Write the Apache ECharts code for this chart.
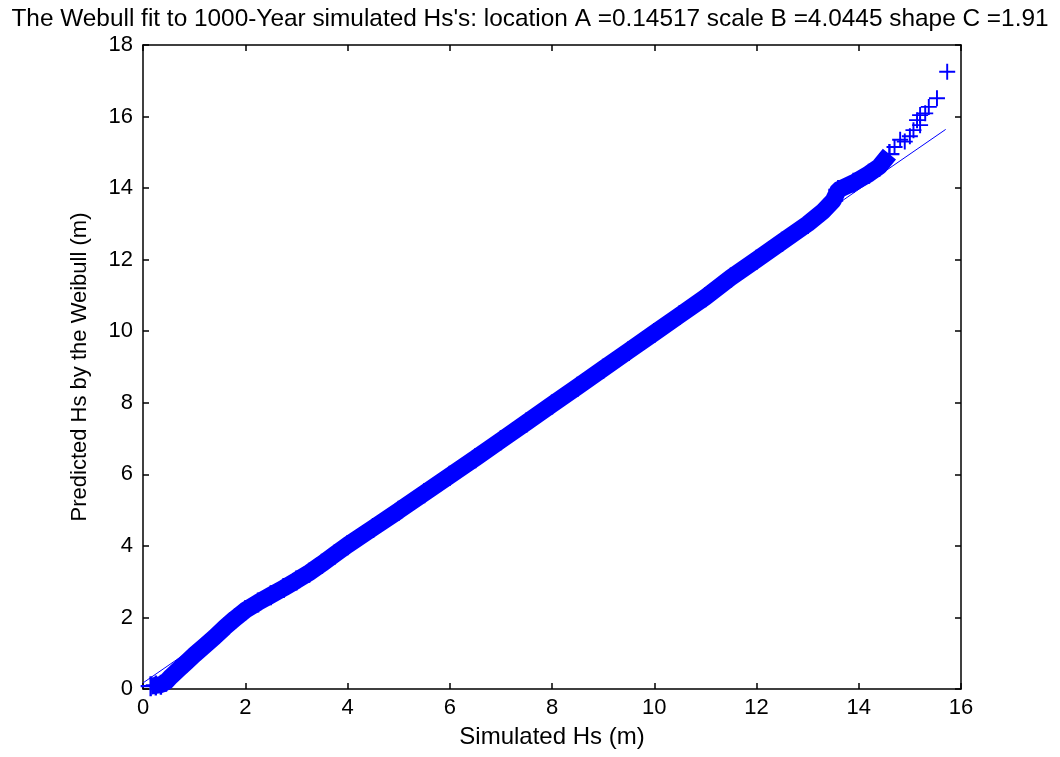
<!DOCTYPE html>
<html>
<head>
<meta charset="utf-8">
<script src="https://cdn.jsdelivr.net/npm/echarts@6/dist/echarts.min.js"></script>
<style>
html,body{margin:0;padding:0;background:#fff;}
#chart{width:1060px;height:757px;}
</style>
</head>
<body>
<div id="chart"></div>
<script>
// Dense part of the Q-Q band (simulated Hs vs predicted Hs)
const bandX = [0.15,0.25,0.35,0.45,0.55,0.7,0.85,1.0,1.2,1.4,1.6,1.8,2.0,2.25,2.5,2.75,3.0,3.25,3.5,3.75,4.0,4.5,5.0,5.5,6.0,6.5,7.0,7.5,8.0,8.5,9.0,9.5,10.0,10.5,11.0,11.5,12.0,12.5,13.0,13.3,13.5,13.6,13.9,14.2,14.4,14.6];
const bandY = [0.08,0.1,0.12,0.2,0.35,0.55,0.75,0.95,1.2,1.45,1.72,1.97,2.2,2.42,2.62,2.82,3.03,3.25,3.5,3.76,4.02,4.5,4.98,5.47,5.96,6.45,6.95,7.45,7.95,8.45,8.95,9.45,9.95,10.45,10.95,11.5,12.0,12.5,13.0,13.35,13.65,13.95,14.15,14.4,14.6,14.95];
// Sparse upper tail
const tailX = [14.7,14.81,14.9,15.0,15.07,15.14,15.2,15.2,15.3,15.37,15.53,15.73];
const tailY = [15.15,15.35,15.3,15.45,15.62,15.9,15.76,16.04,16.09,16.27,16.51,17.25];
// Reference fit line
const refX = [0, 15.7];
const refY = [0.17, 15.64];

const titleText = "The Webull fit to 1000-Year simulated Hs's: location A =0.14517 scale B =4.0445 shape C =1.91";
const xName = "Simulated Hs (m)";
const yName = "Predicted Hs by the Weibull (m)";

const zip = (xs, ys) => xs.map((x, i) => [x, ys[i]]);
const plus = 'path://M4.4,0H5.6V4.4H10V5.6H5.6V10H4.4V5.6H0V4.4H4.4Z';
const FONT = 'Liberation Sans';
const blue = '#0000FF';

const chart = echarts.init(document.getElementById('chart'), null, {renderer: 'canvas'});
const axisCommon = {
  min: 0, interval: 2,
  axisLine: {show: true, onZero: false, lineStyle: {color: '#000', width: 1.5}},
  axisTick: {show: true, inside: true, length: 6, lineStyle: {color: '#000', width: 1.5}},
  splitLine: {show: false}
};
chart.setOption({
  animation: false,
  backgroundColor: '#fff',
  title: {
    text: titleText, left: 'center', top: 2,
    textStyle: {fontFamily: FONT, fontSize: 24.4, fontWeight: 'normal', color: '#000'}
  },
  grid: {left: 143, right: 99, top: 45, bottom: 68},
  xAxis: [
    Object.assign({}, axisCommon, {
      type: 'value', max: 16, position: 'bottom',
      name: xName, nameLocation: 'middle', nameGap: 36,
      nameTextStyle: {fontFamily: FONT, fontSize: 24, color: '#000'},
      axisLabel: {fontFamily: FONT, fontSize: 22, color: '#000', margin: 8}
    }),
    Object.assign({}, axisCommon, {
      type: 'value', max: 16, position: 'top', axisLabel: {show: false}
    })
  ],
  yAxis: [
    Object.assign({}, axisCommon, {
      type: 'value', max: 18, position: 'left',
      name: yName, nameLocation: 'middle', nameGap: 52,
      nameTextStyle: {fontFamily: FONT, fontSize: 22, color: '#000'},
      axisLabel: {fontFamily: FONT, fontSize: 22, color: '#000', margin: 10}
    }),
    Object.assign({}, axisCommon, {
      type: 'value', max: 18, position: 'right', axisLabel: {show: false}
    })
  ],
  series: [
    {
      type: 'line', data: zip(bandX, bandY), showSymbol: true, symbol: plus, symbolSize: 20,
      lineStyle: {color: blue, width: 17}, itemStyle: {color: blue, opacity: 1}, silent: true, z: 2
    },
    {
      type: 'scatter', data: zip(tailX, tailY), symbol: plus, symbolSize: 16,
      itemStyle: {color: blue, opacity: 1}, silent: true, z: 3
    },
    {
      type: 'line', data: zip(refX, refY), showSymbol: false,
      lineStyle: {color: blue, width: 1}, silent: true, z: 1
    }
  ]
});
</script>
</body>
</html>
